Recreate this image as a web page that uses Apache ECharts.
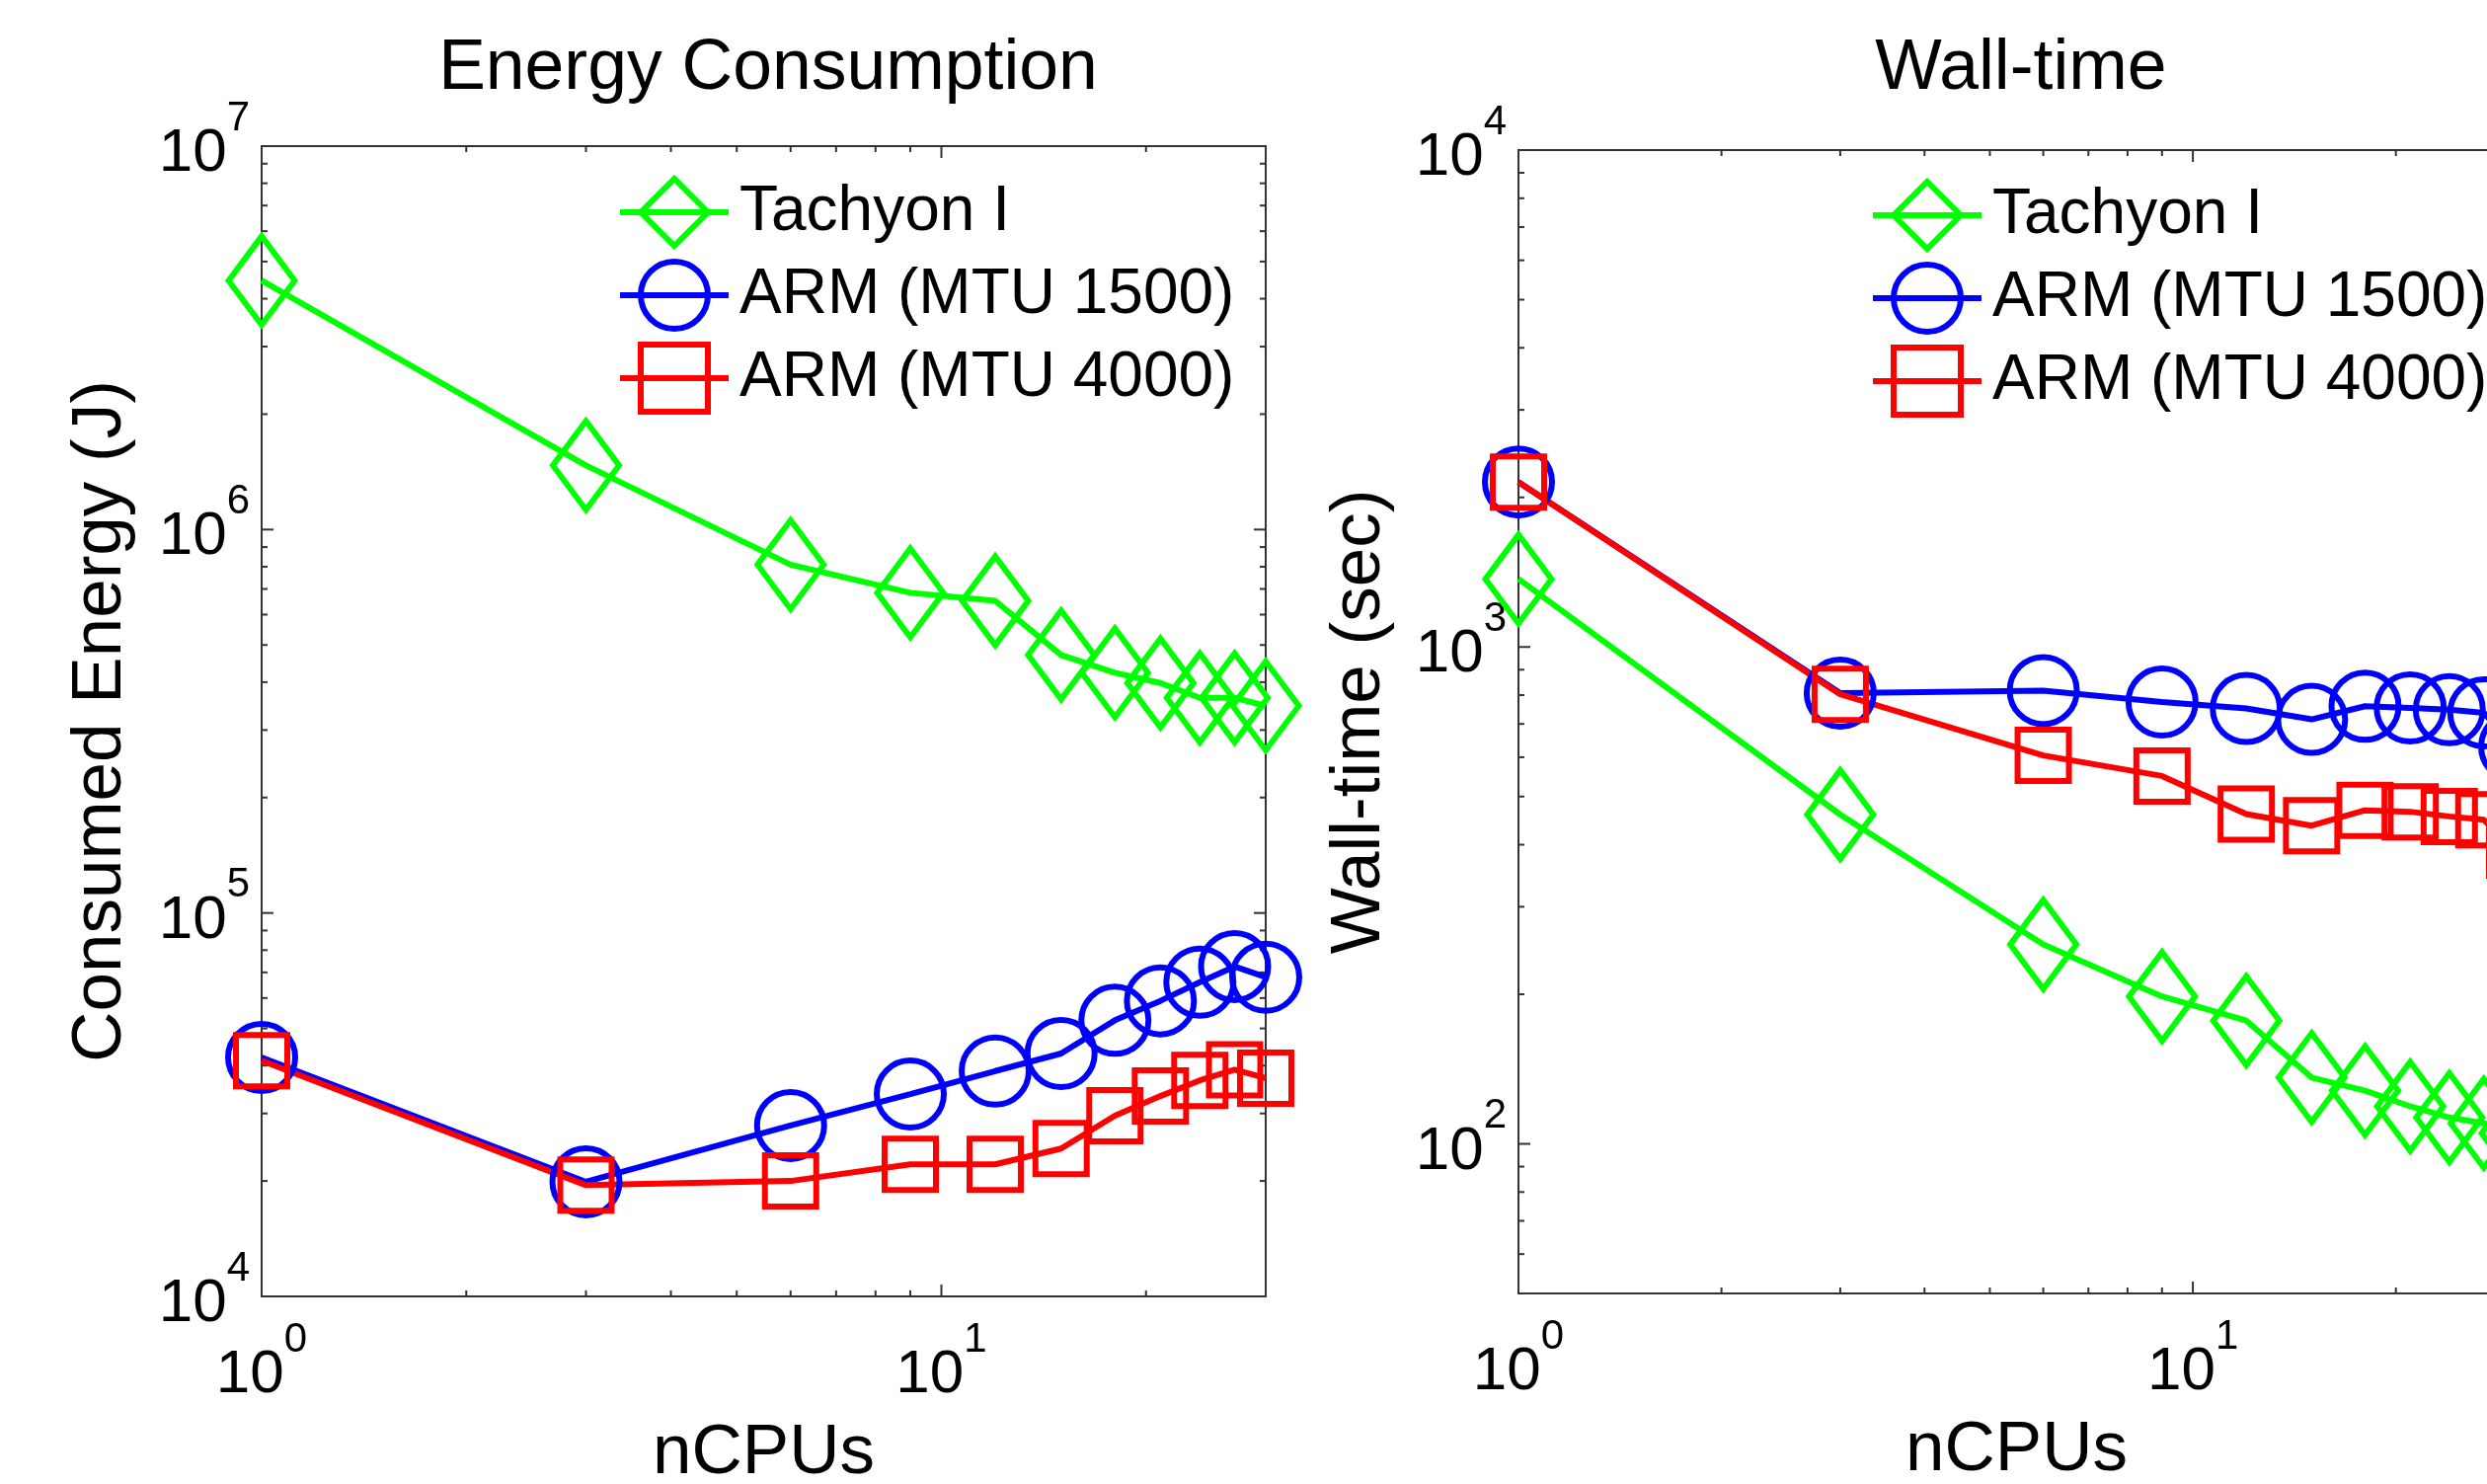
<!DOCTYPE html>
<html>
<head>
<meta charset="utf-8">
<script src="https://cdn.jsdelivr.net/npm/echarts@6/dist/echarts.min.js"></script>
<style>
  html, body { margin: 0; padding: 0; background: #fff; }
  #chart { width: 2519px; height: 1503px; }
</style>
</head>
<body>
<div id="chart"></div>
<script>
var nCPUs = [1, 3, 6, 9, 12, 15, 18, 21, 24, 27, 30];
var seriesNames = ['Tachyon I', 'ARM (MTU 1500)', 'ARM (MTU 4000)'];

// Energy Consumption (J)
var energyTachyon = [4.46e6, 1.47e6, 8.1e5, 6.84e5, 6.52e5, 4.71e5, 4.23e5, 3.98e5, 3.64e5, 3.64e5, 3.47e5];
var energyArm1500 = [4.2e4, 1.99e4, 2.79e4, 3.37e4, 3.87e4, 4.3e4, 5.25e4, 5.9e4, 6.6e4, 7.25e4, 6.8e4];
var energyArm4000 = [4.12e4, 1.95e4, 2.0e4, 2.21e4, 2.21e4, 2.43e4, 2.96e4, 3.33e4, 3.66e4, 3.9e4, 3.71e4];

// Wall-time (sec)
var timeTachyon = [1370, 460, 252, 198, 177, 136, 128, 119, 113, 110, 105];
var timeArm1500 = [2148, 807, 817, 775, 752, 715, 760, 754, 748, 737, 630];
var timeArm4000 = [2148, 803, 605, 550, 461, 437, 469, 466, 456, 449, 390];

// axis ranges and tick positions
var xRange = [1, 30];
var energyRange = [1e4, 1e7];
var timeRange = [50, 1e4];
var xMajorTicks = [1, 10];
var xMinorTicks = [2, 3, 4, 5, 6, 7, 8, 9, 20];
var energyMajorTicks = [1e4, 1e5, 1e6, 1e7];
var energyDecades = [1e4, 1e5, 1e6];
var timeMajorTicks = [100, 1000, 10000];
var timeDecades = [10, 100, 1000];

var font = '"Liberation Sans", Arial, Helvetica, sans-serif';
var colors = ['#00ff00', '#0000ff', '#ff0000'];
var symbols = ['diamond', 'circle', 'rect'];
var symbolSizes = [[67, 90], 68, 52];

function minorOf(decades, range) {
  var out = [];
  decades.forEach(function(d) {
    for (var k = 2; k <= 9; k++) {
      var v = d * k;
      if (v > range[0] && v < range[1]) out.push(v);
    }
  });
  return out;
}

function powLabel(v) {
  var e = Math.log10(v);
  var r = Math.round(e);
  if (Math.abs(e - r) > 1e-6) return '';
  return '{b|10}{s|' + r + '}';
}

var labelRich = {
  b: { fontSize: 62, fontFamily: font, color: '#000', lineHeight: 88, verticalAlign: 'bottom' },
  s: { fontSize: 42, fontFamily: font, color: '#000', verticalAlign: 'top' }
};

function tickData(xr, yr, xMaj, xMin, yMaj, yMin) {
  var d = [];
  xMaj.forEach(function(v) { d.push([v, yr[0], 12, 0]); });
  xMin.forEach(function(v) { d.push([v, yr[0], 6, 0]); });
  yMaj.forEach(function(v) { d.push([xr[0], v, 12, 1]); });
  yMin.forEach(function(v) { d.push([xr[0], v, 6, 1]); });
  return d;
}

function tickRenderer(xr, yr) {
  return function(params, api) {
    var len = api.value(2);
    var kind = api.value(3);
    var st = { stroke: '#333', lineWidth: 2 };
    var a, b;
    if (kind === 0) {
      a = api.coord([api.value(0), yr[0]]);
      b = api.coord([api.value(0), yr[1]]);
      return { type: 'group', children: [
        { type: 'line', shape: { x1: a[0], y1: a[1], x2: a[0], y2: a[1] - len }, style: st },
        { type: 'line', shape: { x1: b[0], y1: b[1], x2: b[0], y2: b[1] + len }, style: st }
      ] };
    }
    a = api.coord([xr[0], api.value(1)]);
    b = api.coord([xr[1], api.value(1)]);
    return { type: 'group', children: [
      { type: 'line', shape: { x1: a[0], y1: a[1], x2: a[0] + len, y2: a[1] }, style: st },
      { type: 'line', shape: { x1: b[0], y1: b[1], x2: b[0] - len, y2: b[1] }, style: st }
    ] };
  };
}

function lineSeries(i, values, axis) {
  return {
    name: seriesNames[i],
    type: 'line',
    xAxisIndex: axis,
    yAxisIndex: axis,
    data: nCPUs.map(function(x, k) { return [x, values[k]]; }),
    symbol: symbols[i],
    symbolSize: symbolSizes[i],
    clip: false,
    lineStyle: { color: colors[i], width: 6 },
    itemStyle: { color: 'rgba(0,0,0,0)', borderColor: colors[i], borderWidth: 6 },
    emphasis: { disabled: true },
    animation: false
  };
}

function xAxisOpt(gridIndex) {
  return {
    type: 'log', gridIndex: gridIndex, min: xRange[0], max: xRange[1],
    axisLine: { show: true, lineStyle: { color: '#333', width: 2 } },
    axisTick: { show: false },
    splitLine: { show: false },
    axisLabel: { formatter: powLabel, rich: labelRich, margin: 23 },
    name: 'nCPUs', nameLocation: 'middle', nameGap: 124,
    nameTextStyle: { fontSize: 71, fontFamily: font, color: '#000' }
  };
}

function yAxisOpt(gridIndex, range, name, gap) {
  return {
    type: 'log', gridIndex: gridIndex, min: range[0], max: range[1],
    axisLine: { show: true, lineStyle: { color: '#333', width: 2 } },
    axisTick: { show: false },
    splitLine: { show: false },
    axisLabel: { formatter: powLabel, rich: labelRich, margin: 12, padding: [0, 0, 10, 0] },
    name: name, nameLocation: 'middle', nameGap: gap,
    nameTextStyle: { fontSize: 71, fontFamily: font, color: '#000' }
  };
}

function legendOpt(left, top) {
  return {
    orient: 'vertical', left: left, top: top,
    itemWidth: 110, itemHeight: 85, itemGap: 10,
    selectedMode: false,
    textStyle: { fontSize: 64, fontFamily: font, color: '#000', padding: [0, 0, 0, 6] },
    data: seriesNames.map(function(n, i) {
      return {
        name: n,
        itemStyle: { color: 'rgba(0,0,0,0)', borderColor: colors[i], borderWidth: 6 },
        lineStyle: { color: colors[i], width: 6 }
      };
    })
  };
}

var chart = echarts.init(document.getElementById('chart'), null, { renderer: 'canvas' });
chart.setOption({
  animation: false,
  backgroundColor: '#fff',
  textStyle: { fontFamily: font },
  title: [
    { text: 'Energy Consumption', left: 773, top: 29, textAlign: 'center',
      textStyle: { fontSize: 71.5, fontWeight: 'normal', fontFamily: font, color: '#000' } },
    { text: 'Wall-time', left: 2042, top: 29, textAlign: 'center',
      textStyle: { fontSize: 71.5, fontWeight: 'normal', fontFamily: font, color: '#000' } }
  ],
  legend: [legendOpt(620, 173), legendOpt(1889, 176)],
  grid: [
    { left: 265, top: 148, width: 1017, height: 1165, show: true, borderColor: '#333', borderWidth: 2,
      containLabel: false, outerBoundsMode: 'none' },
    { left: 1538, top: 152, width: 1009, height: 1158, show: true, borderColor: '#333', borderWidth: 2,
      containLabel: false, outerBoundsMode: 'none' }
  ],
  xAxis: [xAxisOpt(0), xAxisOpt(1)],
  yAxis: [
    yAxisOpt(0, energyRange, 'Consumed Energy (J)', 127),
    yAxisOpt(1, timeRange, 'Wall-time (sec)', 125)
  ],
  series: [
    { type: 'custom', xAxisIndex: 0, yAxisIndex: 0, silent: true, clip: false,
      renderItem: tickRenderer(xRange, energyRange),
      data: tickData(xRange, energyRange, xMajorTicks, xMinorTicks, energyMajorTicks, minorOf(energyDecades, energyRange)) },
    { type: 'custom', xAxisIndex: 1, yAxisIndex: 1, silent: true, clip: false,
      renderItem: tickRenderer(xRange, timeRange),
      data: tickData(xRange, timeRange, xMajorTicks, xMinorTicks, timeMajorTicks, minorOf(timeDecades, timeRange)) },
    lineSeries(0, energyTachyon, 0),
    lineSeries(1, energyArm1500, 0),
    lineSeries(2, energyArm4000, 0),
    lineSeries(0, timeTachyon, 1),
    lineSeries(1, timeArm1500, 1),
    lineSeries(2, timeArm4000, 1)
  ]
});
window.addEventListener('resize', function() { chart.resize(); });
</script>
</body>
</html>
